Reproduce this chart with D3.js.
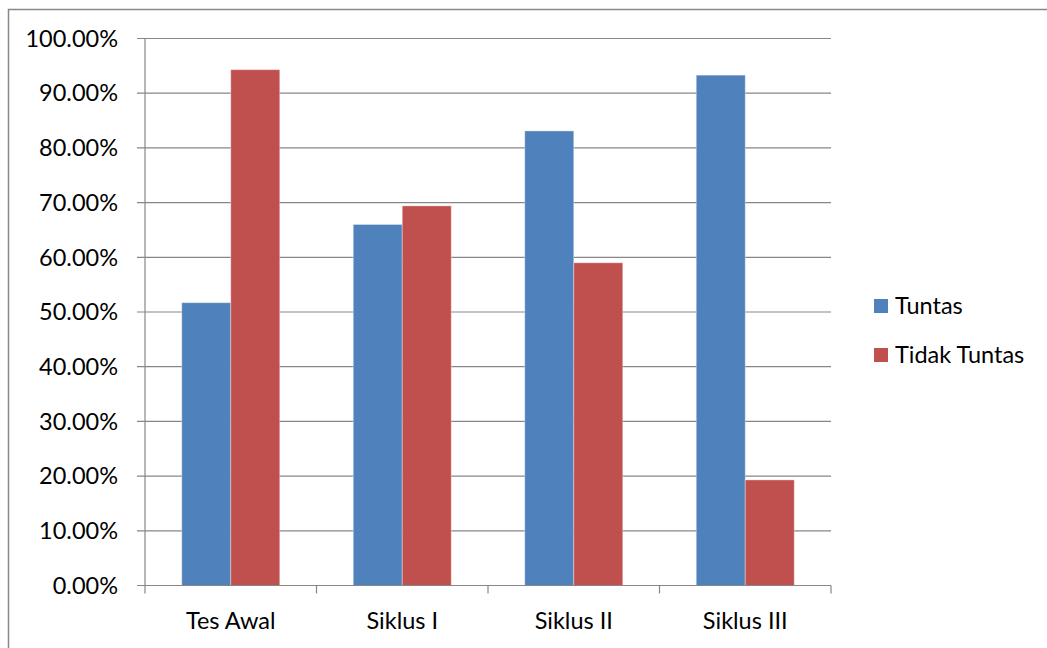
<!DOCTYPE html>
<html><head><meta charset="utf-8">
<script src="https://cdn.jsdelivr.net/npm/d3@7"></script>
<style>body{margin:0;background:#fff}svg{display:block}text{font-family:Lato,"Open Sans",sans-serif;fill:#000}</style>
</head><body><svg id="c" width="1047" height="648"></svg>
<script>
const categories = ["Tes Awal","Siklus I","Siklus II","Siklus III"];
const seriesNames = ["Tuntas","Tidak Tuntas"];
const tuntas = [0.517, 0.660, 0.831, 0.933];
const tidakTuntas = [0.943, 0.694, 0.590, 0.193];
const yTicks = [0,0.1,0.2,0.3,0.4,0.5,0.6,0.7,0.8,0.9,1.0];
const colors = ["#4F81BD","#C0504D"];

(function(){
const FS = 23.5;
const svg = d3.select("#c");
svg.append("rect").attr("x",8.5).attr("y",9.5).attr("width",1100).attr("height",700)
  .attr("fill","#fff").attr("stroke","#888").attr("stroke-width",1.5);

const pL=145, pR=831, pT=38.5, pB=585.5;
const x = d3.scaleBand().domain(categories).range([pL,pR]);
const y = d3.scaleLinear().domain([0,1]).range([pB,pT]);
// gap width 150%: each bar = band/3.5, offset 0.75 bar
const xs = d3.scaleBand().domain(seriesNames).range([0,x.bandwidth()]).paddingOuter(0.75);

svg.append("g").selectAll("line").data(yTicks).join("line")
  .attr("x1",pL-8).attr("x2",pR).attr("y1",d=>y(d)).attr("y2",d=>y(d))
  .attr("stroke","#878787").attr("stroke-width",1.2);
svg.append("line").attr("x1",pL).attr("x2",pL).attr("y1",pT).attr("y2",pB)
  .attr("stroke","#878787").attr("stroke-width",1.2);
const fmt = d3.format(".2%");
svg.append("g").selectAll("text").data(yTicks).join("text")
  .attr("x",118).attr("y",d=>y(d)).attr("dy","0.35em").attr("text-anchor","end")
  .attr("font-size",FS).text(d=>fmt(d));

const data = [tuntas, tidakTuntas];
data.forEach((vals,si)=>{
  svg.append("g").selectAll("rect").data(categories).join("rect")
    .attr("x",c=>x(c)+xs(seriesNames[si]))
    .attr("y",(c,i)=>y(vals[i]))
    .attr("width",xs.bandwidth())
    .attr("height",(c,i)=>pB-y(vals[i]))
    .attr("fill",colors[si])
    .attr("stroke","#fff").attr("stroke-opacity",0.35).attr("stroke-width",1);
});

svg.append("line").attr("x1",pL).attr("x2",pR).attr("y1",pB).attr("y2",pB)
  .attr("stroke","#878787").attr("stroke-width",1.2);
const xt = categories.map(c=>x(c)).concat([pR]);
svg.append("g").selectAll("line").data(xt).join("line")
  .attr("x1",d=>d).attr("x2",d=>d).attr("y1",pB).attr("y2",pB+8)
  .attr("stroke","#878787").attr("stroke-width",1.2);
svg.append("g").selectAll("text").data(categories).join("text")
  .attr("x",c=>x(c)+x.bandwidth()/2).attr("y",621).attr("dy","0.35em").attr("text-anchor","middle")
  .attr("font-size",FS).text(c=>c);

const lg = svg.append("g");
seriesNames.forEach((s,i)=>{
  const cy = 306 + i*49;
  lg.append("rect").attr("x",874).attr("y",cy-7).attr("width",14).attr("height",14).attr("fill",colors[i]);
  lg.append("text").attr("x",895).attr("y",cy).attr("dy","0.35em").attr("font-size",FS).text(s);
});
})();
</script></body></html>
